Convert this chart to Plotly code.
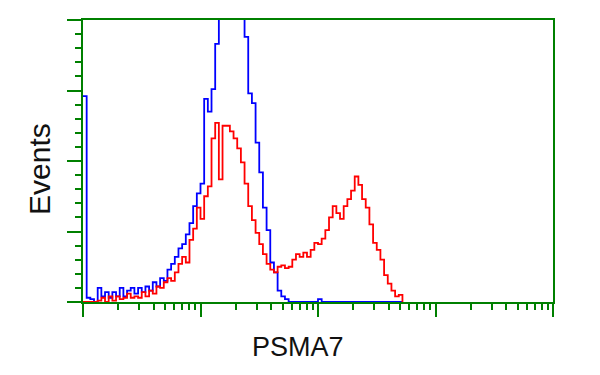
import numpy as np
import plotly.graph_objects as go

# Histogram bins: 32 bins per decade on a 4-decade log scale
BINS_PER_DECADE = 32

# Control (blue) counts per bin
blue_counts = [146, 3, 2, 0, 10, 4, 7, 3, 7, 4,
               10, 4, 8, 10, 6, 10, 7, 11, 8, 14,
               11, 17, 15, 23, 27, 32, 38, 41, 48, 56,
               68, 77, 84, 144, 135, 151, 183, 211, 225, 232,
               236, 232, 222, 208, 188, 148, 141, 113, 92, 67,
               51, 28, 21, 8, 4, 2, 0, 0, 0, 0,
               0, 0, 0, 0, 2, 0, 0, 0, 0, 0,
               0, 0, 0, 0, 0, 0, 0, 0, 0, 0,
               0, 0, 0, 0, 0, 0, 0, 0]

# PSMA7 stained (red) counts per bin
red_counts = [0, 0, 0, 0, 1, 3, 0, 4, 1, 4,
              2, 3, 6, 3, 4, 3, 7, 4, 8, 6,
              11, 10, 14, 17, 15, 21, 27, 32, 28, 44,
              52, 67, 59, 75, 82, 116, 127, 87, 125, 125,
              121, 116, 109, 99, 84, 68, 58, 49, 41, 34,
              27, 23, 21, 25, 26, 24, 25, 30, 34, 32,
              35, 32, 37, 42, 41, 45, 51, 60, 68, 63,
              59, 68, 73, 79, 89, 83, 73, 67, 55, 42,
              37, 30, 19, 13, 8, 4, 5, 0]

x_title = "PSMA7"
y_title = "Events"

bins = np.arange(len(blue_counts))
fluor = 10 ** (bins / BINS_PER_DECADE)

green = "#008000"

fig = go.Figure()
fig.add_trace(go.Scatter(x=fluor, y=blue_counts, mode="lines",
                         line=dict(color="#0000FF", width=1.8, shape="hv"),
                         showlegend=False, hoverinfo="skip"))
fig.add_trace(go.Scatter(x=fluor, y=red_counts, mode="lines",
                         line=dict(color="#FF0000", width=1.8, shape="hv"),
                         showlegend=False, hoverinfo="skip"))

minor_x = [m * 10 ** d for d in range(4) for m in range(2, 10)]

fig.update_layout(
    width=600, height=375,
    margin=dict(l=75, r=55, t=10, b=81),
    paper_bgcolor="white", plot_bgcolor="white",
    font=dict(family="Liberation Sans, Arial, sans-serif", color="#111111"),
    xaxis=dict(type="log", range=[0, 4],
               tickmode="array", tickvals=[1, 10, 100, 1000, 10000],
               showticklabels=False, ticks="outside", ticklen=13,
               tickwidth=2, tickcolor=green,
               minor=dict(tickmode="array", tickvals=minor_x, ticks="outside",
                          ticklen=6, tickwidth=2, tickcolor=green, showgrid=False),
               showline=True, linecolor=green, linewidth=2, mirror=True,
               showgrid=False, zeroline=False),
    yaxis=dict(range=[0, 200], tickmode="linear", tick0=0, dtick=50,
               showticklabels=False, ticks="outside", ticklen=14,
               tickwidth=2, tickcolor=green,
               minor=dict(tick0=0, dtick=10, ticks="outside",
                          ticklen=6, tickwidth=2, tickcolor=green, showgrid=False),
               showline=True, linecolor=green, linewidth=2, mirror=True,
               showgrid=False, zeroline=False),
    annotations=[
        dict(text=y_title, xref="paper", yref="paper", x=-0.0915, y=0.472,
             textangle=-90, showarrow=False, font=dict(size=30),
             xanchor="center", yanchor="middle"),
        dict(text=x_title, xref="paper", yref="paper", x=0.457, y=-0.158,
             showarrow=False, font=dict(size=27),
             xanchor="center", yanchor="middle"),
    ],
)

fig.write_html("out.html")
